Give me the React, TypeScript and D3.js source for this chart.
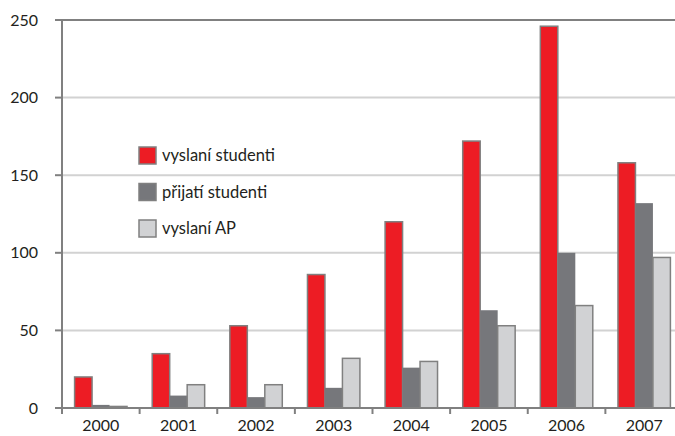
import React from "react";
import * as d3 from "d3";

const years = ["2000", "2001", "2002", "2003", "2004", "2005", "2006", "2007"];
const sentStudents = [20, 35, 53, 86, 120, 172, 246, 158];
const receivedStudents = [2, 8, 7, 13, 26, 63, 100, 132];
const sentStaff = [1, 15, 15, 32, 30, 53, 66, 97];
const seriesNames = ["vyslaní studenti", "přijatí studenti", "vyslaní AP"];
const yTicks = [0, 50, 100, 150, 200, 250];

const colors = ["#ed1c24", "#76777b", "#d1d2d4"];
const strokes = ["#808080", "none", "#808080"];

const App = () => {
  const width = 675;
  const height = 436;
  const left = 62;
  const top = 20;
  const bottom = 408;
  const plotWidth = 621;
  const font = "'Lato', 'Open Sans', sans-serif";

  const series = [sentStudents, receivedStudents, sentStaff];

  const x = d3.scaleBand().domain(years).range([left, left + plotWidth]).paddingInner(0).paddingOuter(0);
  const inner = d3
    .scaleBand()
    .domain(["0", "1", "2"])
    .range([0, x.bandwidth()])
    .paddingOuter(0.72)
    .paddingInner(0);
  const y = d3.scaleLinear().domain([0, 250]).range([bottom, top]);

  return (
    <svg width={width} height={height} style={{ display: "block", position: "absolute", left: 0, top: 0 }}>
      <rect width={width} height={height} fill="#fff" />
      {yTicks
        .filter((t) => t > 0 && t < 250)
        .map((t) => (
          <line key={t} x1={left} x2={left + plotWidth} y1={y(t)} y2={y(t)} stroke="#d2d2d2" strokeWidth={2} />
        ))}
      <line x1={left} x2={left + plotWidth} y1={y(250)} y2={y(250)} stroke="#808080" strokeWidth={2} />

      {series.map((vals, s) =>
        years.map((yr, i) => {
          const v = vals[i];
          const bx = (x(yr) as number) + (inner(String(s)) as number);
          const bw = inner.bandwidth();
          return (
            <rect
              key={`${s}-${yr}`}
              x={bx}
              y={y(v)}
              width={bw}
              height={bottom - y(v)}
              fill={colors[s]}
              stroke={strokes[s]}
              strokeWidth={1.5}
            />
          );
        })
      )}

      <line x1={left} x2={left} y1={top - 1} y2={bottom + 6} stroke="#808080" strokeWidth={2} />
      <line x1={left - 7} x2={left + plotWidth} y1={bottom} y2={bottom} stroke="#808080" strokeWidth={2} />
      {yTicks.map((t) => (
        <g key={t}>
          <line x1={left - 7} x2={left} y1={y(t)} y2={y(t)} stroke="#808080" strokeWidth={2} />
          <text x={38} y={y(t) + 5.5} textAnchor="end" fontFamily={font} fontSize={16} fill="#231f20">
            {t}
          </text>
        </g>
      ))}
      {years.map((yr) => (
        <g key={yr}>
          <line
            x1={(x(yr) as number) + x.bandwidth()}
            x2={(x(yr) as number) + x.bandwidth()}
            y1={bottom}
            y2={bottom + 6}
            stroke="#808080"
            strokeWidth={2}
          />
          <text
            x={(x(yr) as number) + x.bandwidth() / 2}
            y={431}
            textAnchor="middle"
            fontFamily={font}
            fontSize={16}
            fill="#231f20"
          >
            {yr}
          </text>
        </g>
      ))}

      {seriesNames.map((name, s) => (
        <g key={name} transform={`translate(139,${147 + s * 36.5})`}>
          <rect width={17} height={17} fill={colors[s]} stroke="#808080" strokeWidth={1.5} />
          <text x={23} y={14} fontFamily={font} fontSize={16.5} fill="#231f20">
            {name}
          </text>
        </g>
      ))}
    </svg>
  );
};

export default App;
